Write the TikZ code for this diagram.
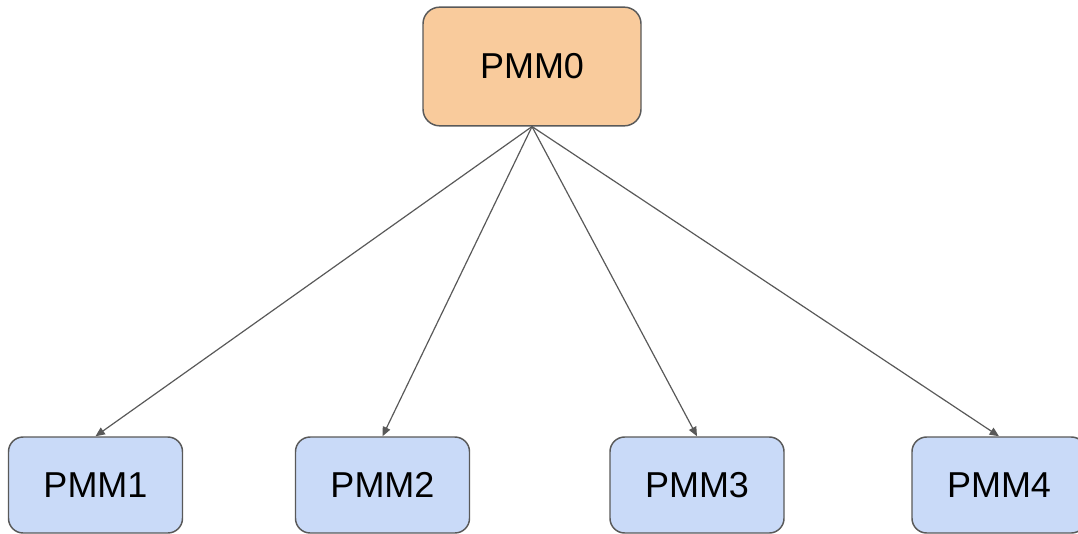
\documentclass[tikz,border=0pt]{standalone}
\usepackage{fontspec}
\setmainfont{Liberation Sans}
\usetikzlibrary{arrows.meta,positioning,calc}
\definecolor{pmmorange}{HTML}{F9CB9C}
\definecolor{pmmblue}{HTML}{C9DAF8}
\definecolor{pmmline}{HTML}{595959}
\tikzset{
  rootbox/.style={draw=pmmline, fill=pmmorange, line width=1.1pt, rounded corners=12.5pt,
    minimum width=163.5pt, minimum height=89pt, font=\fontsize{27}{32}\selectfont},
  leafbox/.style={draw=pmmline, fill=pmmblue, line width=1.1pt, rounded corners=11pt,
    minimum width=130.5pt, minimum height=72pt, font=\fontsize{27}{32}\selectfont},
  arrow/.style={draw=pmmline, -{Triangle[length=7pt,width=6pt]}, line width=0.9pt},
}
\begin{document}
\begin{tikzpicture}[x=0.75pt,y=0.75pt]
  \useasboundingbox (0,0) rectangle (1078,533);
  \node[rootbox] (pmm0) at (532,466.5) {PMM0};
  \foreach \i/\x in {1/95.5,2/382.5,3/697,4/999}{
    \node[leafbox] (pmm\i) at (\x,48) {PMM\i};
    \draw[arrow] (pmm0.south) -- (pmm\i.north);
  }
\end{tikzpicture}
\end{document}
